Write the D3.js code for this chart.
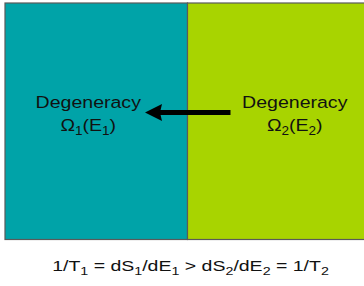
<!DOCTYPE html>
<html>
<head>
<meta charset="utf-8">
<script src="https://cdn.jsdelivr.net/npm/d3@7"></script>
<style>
  body { margin: 0; background: #fff; }
  text { font-family: "Liberation Sans", Arial, sans-serif; fill: #111; }
</style>
</head>
<body>
<svg id="chart" width="364" height="286"></svg>
<script>
// the two systems in thermal contact
var panels = ["system1", "system2"]
var panelColors = ["#00a3a8", "#a8d400"]
var panelTitles = ["Degeneracy", "Degeneracy"]
// second line: Omega_i(E_i) as [text, isSubscript]
var panelFormulas = [
    [["Ω", false], ["1", true], ["(E", false], ["1", true], [")", false]],
    [["Ω", false], ["2", true], ["(E", false], ["2", true], [")", false]]
]
// energy flows from system 2 into system 1
var flow = {from: "system2", to: "system1"}
var relation = [
    ["1/T", false], ["1", true], [" = dS", false], ["1", true], ["/dE", false], ["1", true],
    [" > dS", false], ["2", true], ["/dE", false], ["2", true], [" = 1/T", false], ["2", true]
]

var box = {left: 5, right: 370, top: 3, bottom: 239.5}

var svg = d3.select("#chart")

var xScale = d3.scaleBand()
    .domain(panels)
    .range([box.left, box.right])
    .padding(0)

var color = d3.scaleOrdinal()
    .domain(panels)
    .range(panelColors)

svg.selectAll("rect.panel")
    .data(panels)
    .enter()
    .append("rect")
        .attr("class", "panel")
        .attr("x", d => xScale(d))
        .attr("y", box.top)
        .attr("width", xScale.bandwidth())
        .attr("height", box.bottom - box.top)
        .attr("fill", d => color(d))
        .attr("stroke", "#5a5a5a")
        .attr("stroke-width", 1.2)

var addRuns = function(textSel, runs, subSize, shift) {
    runs.forEach(function(r, i) {
        var prevSub = i > 0 && runs[i-1][1]
        var dy = 0
        if (r[1] && !prevSub) dy = shift
        if (!r[1] && prevSub) dy = -shift
        textSel.append("tspan")
            .attr("dy", dy)
            .style("font-size", r[1] ? subSize + "px" : null)
            .text(r[0])
    })
}

// label centres sit a bit off the band middle, as in the figure
var labelOffset = {system1: -8, system2: 16}

// the source picture is stretched sideways a little
var labels = svg.selectAll("g.label")
    .data(panels)
    .enter()
    .append("g")
        .attr("class", "label")
        .attr("transform", d => "translate(" + (xScale(d) + xScale.bandwidth()/2 + labelOffset[d]) + ",0) scale(1.13,1)")

labels.append("text")
    .attr("text-anchor", "middle")
    .attr("y", 108.3)
    .style("font-size", "17.3px")
    .text((d, i) => panelTitles[i])

labels.append("text")
    .attr("text-anchor", "middle")
    .attr("y", 131)
    .style("font-size", "17.3px")
    .each(function(d, i) { addRuns(d3.select(this), panelFormulas[i], 12, 4) })

// arrow
var arrowY = 112.5
var arrowStart = xScale(flow.from) + 43
var arrowTip = xScale(flow.to) + 140
var headLen = 17

svg.append("line")
    .attr("x1", arrowStart)
    .attr("x2", arrowTip + headLen - 2)
    .attr("y1", arrowY)
    .attr("y2", arrowY)
    .attr("stroke", "#000")
    .attr("stroke-width", 5)

svg.append("path")
    .attr("d", d3.line()([[arrowTip, arrowY], [arrowTip + headLen, arrowY - 8.5], [arrowTip + headLen - 2, arrowY], [arrowTip + headLen, arrowY + 8.5]]) + "Z")
    .attr("fill", "#000")

// relation underneath
var rel = svg.append("g")
    .attr("transform", "translate(190.5,271) scale(1.3,1)")
    .append("text")
    .attr("text-anchor", "middle")
    .style("font-size", "15px")
addRuns(rel, relation, 11, 4)
</script>
</body>
</html>
